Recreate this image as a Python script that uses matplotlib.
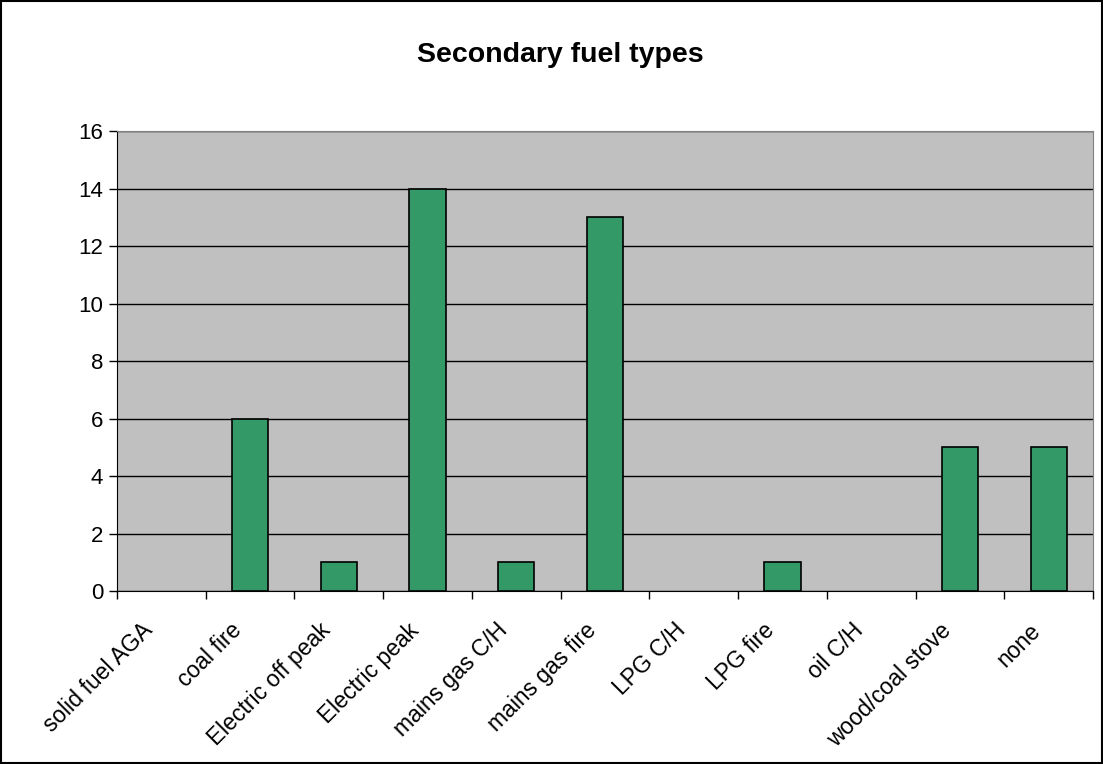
import numpy as np
import matplotlib.pyplot as plt
from matplotlib.transforms import ScaledTranslation

categories = ['solid fuel AGA', 'coal fire', 'Electric off peak', 'Electric peak',
              'mains gas C/H', 'mains gas fire', 'LPG C/H', 'LPG fire', 'oil C/H',
              'wood/coal stove', 'none']
counts = [0, 6, 1, 14, 1, 13, 0, 1, 0, 5, 5]
yticks = [0, 2, 4, 6, 8, 10, 12, 14, 16]

plt.rcParams['font.family'] = ['Liberation Sans', 'DejaVu Sans']

fig = plt.figure(figsize=(11.03, 7.64), dpi=100)
ax = fig.add_axes([0.106, 0.2264, 0.885, 0.602])

x = np.arange(len(categories))
# empty categories get no outline
edge_widths = [1.2 if c > 0 else 0 for c in counts]
ax.bar(x, counts, width=0.41, color='#339966', edgecolor='black',
       linewidth=edge_widths, zorder=3)

ax.set_facecolor('#c0c0c0')
ax.set_xlim(-0.5, len(categories) - 0.5)
ax.set_ylim(0, 16)
ax.set_yticks(yticks)
ax.yaxis.grid(True, color='black', linewidth=1)
ax.set_axisbelow(True)
ax.tick_params(axis='y', labelsize=16, length=6, direction='out', width=1, pad=4)

# labels sit at category centres, tick marks at category boundaries
ax.set_xticks(x)
ax.set_xticklabels(categories, rotation=45, ha='right', rotation_mode='anchor', fontsize=16.5)
ax.tick_params(axis='x', which='major', length=0, pad=20)
shift = ScaledTranslation(-20 / 100, 0, fig.dpi_scale_trans)
for lbl in ax.get_xticklabels():
    lbl.set_transform(lbl.get_transform() + shift)
ax.set_xticks(np.arange(len(categories) + 1) - 0.5, minor=True)
ax.tick_params(axis='x', which='minor', length=6, width=1, direction='out')

for side in ['top', 'right']:
    ax.spines[side].set_color('#808080')
for side in ['left', 'bottom']:
    ax.spines[side].set_color('black')

fig.text(0.508, 1 - 55 / 764, 'Secondary fuel types', fontsize=20.5, fontweight='bold',
         ha='center', va='center')

# outer chart border
fig.patches.append(plt.Rectangle((0.001, 0.001), 0.998, 0.998, transform=fig.transFigure,
                                 fill=False, edgecolor='black', linewidth=1.5))

fig.savefig('out.png', dpi=100)
